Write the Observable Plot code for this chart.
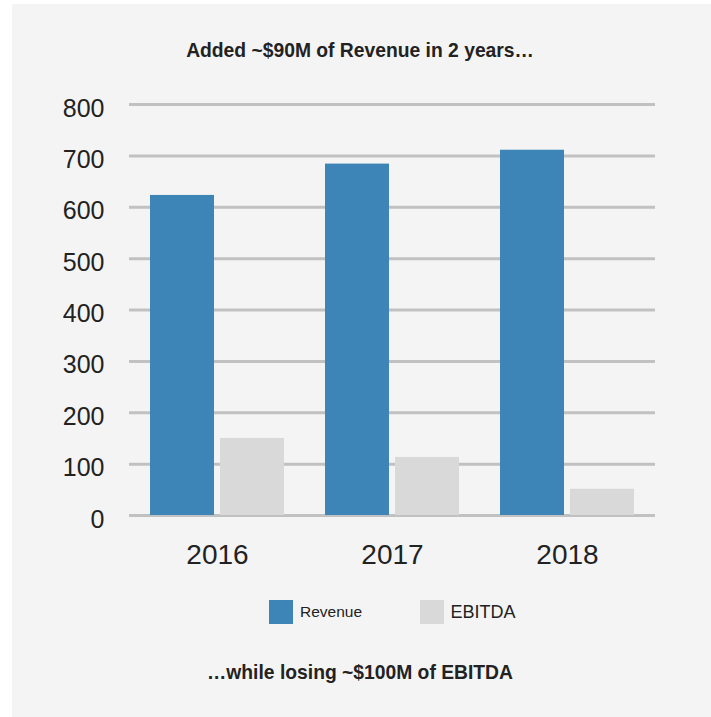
<!DOCTYPE html>
<html>
<head>
<meta charset="utf-8">
<script src="https://cdn.jsdelivr.net/npm/d3@7"></script>
<script src="https://cdn.jsdelivr.net/npm/@observablehq/plot@0.6"></script>
<style>
  html, body { margin: 0; padding: 0; background: #ffffff; }
  #page { position: relative; width: 711px; height: 717px; overflow: hidden; font-family: "Liberation Sans", Arial, sans-serif; color: #222; }
  #panel { position: absolute; left: 12px; top: 4px; width: 699px; height: 713px; background: #f4f4f4; }
  .layer { position: absolute; left: 0; top: 0; }
  .layer svg { display: block; }
  #title, #caption { position: absolute; left: 0; width: 720px; text-align: center; font-weight: bold; font-size: 19.3px; line-height: 19px; white-space: nowrap; }
  #title { top: 41px; }
  #caption { top: 663px; }
  .sw { position: absolute; width: 24px; height: 24px; top: 600px; }
  .lt { position: absolute; top: 600px; line-height: 24px; white-space: nowrap; }
</style>
</head>
<body>
<div id="page">
  <div id="panel"></div>
  <div id="title"></div>
  <div id="grid" class="layer"></div>
  <div id="bars" class="layer"></div>
  <div id="legend"></div>
  <div id="caption"></div>
</div>
<script>
// ---- data ----
const years = ["2016", "2017", "2018"];
const seriesNames = ["Revenue", "EBITDA"];
const revenue = [623, 684, 711];
const ebitda = [150, 113, 51];
const yTicks = [0, 100, 200, 300, 400, 500, 600, 700, 800];
const colors = ["#3d85b7", "#d9d9d9"];
const titleText = "Added ~$90M of Revenue in 2 years…";
const captionText = "…while losing ~$100M of EBITDA";

const rows = [];
years.forEach((y, i) => {
  rows.push({year: y, series: seriesNames[0], value: revenue[i]});
  rows.push({year: y, series: seriesNames[1], value: ebitda[i]});
});

const W = 711, H = 600;
const margins = {marginTop: 104, marginBottom: 85, marginLeft: 129, marginRight: 56};

document.getElementById("title").textContent = titleText;
document.getElementById("caption").textContent = captionText;

// grid + y axis layer
const gridPlot = Plot.plot({
  width: W, height: H, ...margins,
  style: {background: "transparent", fontFamily: "Liberation Sans, Arial, sans-serif", fontSize: "25px", color: "#222", overflow: "visible"},
  x: {axis: null},
  y: {domain: [0, 800], ticks: yTicks, tickSize: 0, tickPadding: 25, label: null, tickFormat: d => String(d)},
  marks: [
    Plot.ruleY(yTicks, {y: d => d, stroke: "#c1c1c1", strokeWidth: 3})
  ]
});
document.getElementById("grid").appendChild(gridPlot);
d3.select(gridPlot).selectAll('g[aria-label^="y-axis"] text').attr("dy", "0.16em");

// bars layer
const barPlot = Plot.plot({
  width: W, height: H, ...margins,
  facetMarginTop: 0, facetMarginBottom: 0, facetMarginLeft: 0, facetMarginRight: 0,
  facet: {marginTop: 0, marginBottom: 0, marginLeft: 0, marginRight: 0},
  style: {background: "transparent", fontFamily: "Liberation Sans, Arial, sans-serif", fontSize: "28px", color: "#222", overflow: "visible"},
  fx: {domain: years, paddingInner: 0.225, paddingOuter: 0.11, axis: "bottom", tickSize: 0, tickPadding: 29, label: null},
  x: {domain: seriesNames, paddingInner: 0.0845, paddingOuter: 0, axis: null},
  y: {domain: [0, 800], axis: null},
  color: {domain: seriesNames, range: colors},
  marks: [
    Plot.barY(rows, {fx: "year", x: "series", y: "value", fill: "series"})
  ]
});
document.getElementById("bars").appendChild(barPlot);

// legend (HTML)
const legend = document.getElementById("legend");
const legendPos = [{sw: 269, tx: 300, fs: 15.5}, {sw: 420, tx: 450.5, fs: 18}];
seriesNames.forEach((name, i) => {
  const sw = document.createElement("div");
  sw.className = "sw";
  sw.style.left = legendPos[i].sw + "px";
  sw.style.background = colors[i];
  legend.appendChild(sw);
  const t = document.createElement("div");
  t.className = "lt";
  t.style.left = legendPos[i].tx + "px";
  t.style.fontSize = legendPos[i].fs + "px";
  t.textContent = name;
  legend.appendChild(t);
});
</script>
</body>
</html>
